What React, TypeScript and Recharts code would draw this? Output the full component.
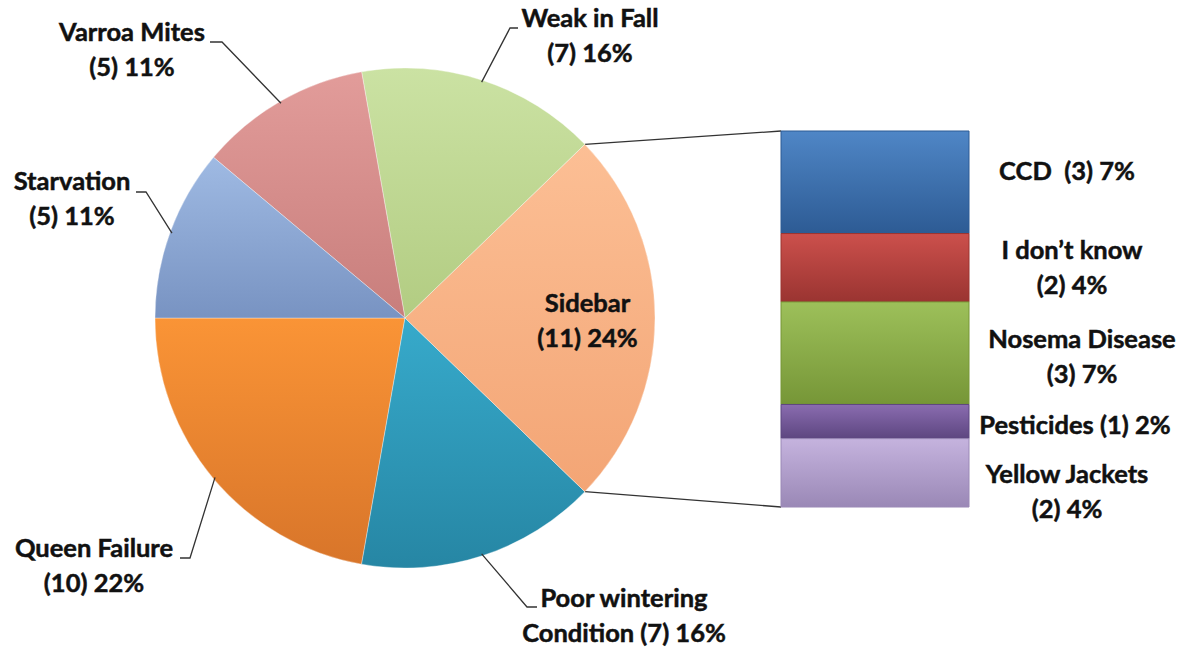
import { PieChart, Pie, Cell, BarChart, Bar, XAxis, YAxis } from 'recharts'

const W = 1180
const H = 647

// main pie, counter-clockwise from 9 o'clock
const causes = ['Queen Failure', 'Poor wintering', 'Sidebar', 'Weak in Fall', 'Varroa Mites', 'Starvation']
const causeCounts = [10, 7, 11, 7, 5, 5]
const causeTop = ['#fa9436', '#37aacb', '#fcbf95', '#cbe2a3', '#e29c9a', '#9fbae3']
const causeBottom = ['#d8752a', '#2686a4', '#f3a575', '#b2cc82', '#c87e7c', '#7893c2']

// breakdown of "Sidebar", top to bottom
const sideCauses = ['CCD ', 'I don\u2019t know', 'Nosema Disease', 'Pesticides', 'Yellow Jackets']
const sideCounts = [3, 2, 3, 1, 2]
const sideTop = ['#4f86c6', '#cc504c', '#9dc05a', '#8a6cb0', '#c5b3de']
const sideBottom = ['#2d5b94', '#9a3431', '#769637', '#5d4680', '#9a88b6']

const total = causeCounts.reduce((a, b) => a + b, 0)
const pct = (v: number) => `${Math.round((v / total) * 100)}%`

// pie geometry
const CX = 405
const CY = 318
const R = 250
const START = 180

// bar geometry
const BAR_L = 781
const BAR_R = 969
const BAR_T = 131
const BAR_B = 507

const FONT = 'Lato, "Open Sans", sans-serif'
const RAD = Math.PI / 180

// outer label layout: text centre x, first baseline, leader elbow, leader end
const pieLabelPos: Record<string, { x: number; y: number; elbow: number[]; end: number[] }> = {
  'Queen Failure': { x: 94, y: 557, elbow: [190, 558], end: [180, 558] },
  'Poor wintering': { x: 624, y: 607, elbow: [527, 607], end: [537, 607] },
  'Weak in Fall': { x: 590, y: 27, elbow: [510, 28], end: [518, 28] },
  'Varroa Mites': { x: 132, y: 41, elbow: [222, 42], end: [210, 42] },
  Starvation: { x: 72, y: 190, elbow: [146, 192], end: [136, 192] },
}

const pieLabelLines = (i: number) => {
  const name = causes[i]
  const v = causeCounts[i]
  if (name === 'Poor wintering') return ['Poor wintering', `Condition (${v}) ${pct(v)}`]
  return [name, `(${v}) ${pct(v)}`]
}

const textStyle = {
  fontFamily: FONT,
  fontWeight: 700,
  fontSize: 25.5,
  fill: '#111',
  stroke: '#111',
  strokeWidth: 0.5,
}

const renderPieLabel = (p: any) => {
  const { cx, cy, midAngle, outerRadius, index } = p
  const name = causes[index]
  const lines = pieLabelLines(index)
  if (name === 'Sidebar') {
    const r = outerRadius * 0.73
    const x = cx + r * Math.cos(-midAngle * RAD)
    const y = cy + r * Math.sin(-midAngle * RAD)
    return (
      <text x={x} y={y - 6} textAnchor="middle" style={textStyle}>
        <tspan x={x} dy={0}>{lines[0]}</tspan>
        <tspan x={x} dy={35}>{lines[1]}</tspan>
      </text>
    )
  }
  const pos = pieLabelPos[name]
  const sx = cx + (outerRadius - 2) * Math.cos(-midAngle * RAD)
  const sy = cy + (outerRadius - 2) * Math.sin(-midAngle * RAD)
  return (
    <g>
      <polyline
        points={`${sx},${sy} ${pos.elbow[0]},${pos.elbow[1]} ${pos.end[0]},${pos.end[1]}`}
        fill="none"
        stroke="#333"
        strokeWidth={1.3}
      />
      <text x={pos.x} y={pos.y} textAnchor="middle" style={textStyle}>
        <tspan x={pos.x} dy={0}>{lines[0]}</tspan>
        <tspan x={pos.x} dy={35}>{lines[1]}</tspan>
      </text>
    </g>
  )
}

// side bar labels: centre offset from bar right edge, vertical nudge
const sideLabelDx = [98, 103, 113, 106, 98]
const sideLabelDy = [-10, 0, 4, 4, 19]

const sideLabelLines = (i: number) => {
  const name = sideCauses[i]
  const v = sideCounts[i]
  const tail = `(${v}) ${pct(v)}`
  if (name === 'CCD ' || name === 'Pesticides') return [`${name} ${tail}`]
  return [name, tail]
}

const renderSideLabel = (p: any, i: number) => {
  const x = Number(p.x) + Number(p.width) + sideLabelDx[i]
  const mid = Number(p.y) + Number(p.height) / 2 + sideLabelDy[i]
  const lines = sideLabelLines(i)
  const first = lines.length === 1 ? mid + 8 : mid - 9
  return (
    <text key={`sl-${i}`} x={x} y={first} textAnchor="middle" style={{ ...textStyle, whiteSpace: 'pre' }}>
      {lines.map((l, k) => (
        <tspan key={k} x={x} dy={k === 0 ? 0 : 35}>
          {l}
        </tspan>
      ))}
    </text>
  )
}

const barRow = [
  Object.fromEntries([['name', 'Sidebar'], ...sideCauses.map((_, i) => [`s${i}`, sideCounts[i]])]),
]
const sideTotal = sideCounts.reduce((a, b) => a + b, 0)

// connector lines from the "Sidebar" slice edges to the bar corners
const sideIdx = causes.indexOf('Sidebar')
const before = causeCounts.slice(0, sideIdx).reduce((a, b) => a + b, 0)
const a0 = (START + (before / total) * 360) * RAD
const a1 = (START + ((before + causeCounts[sideIdx]) / total) * 360) * RAD
const p0 = [CX + R * Math.cos(a0), CY - R * Math.sin(a0)]
const p1 = [CX + R * Math.cos(a1), CY - R * Math.sin(a1)]

export default function App() {
  return (
    <div style={{ position: 'fixed', left: 0, top: 0, width: W, height: H, background: '#fff' }}>
      <svg width={W} height={H} style={{ position: 'absolute', left: 0, top: 0 }}>
        <line x1={p1[0]} y1={p1[1]} x2={BAR_L} y2={BAR_T} stroke="#333" strokeWidth={1.3} />
        <line x1={p0[0]} y1={p0[1]} x2={BAR_L} y2={BAR_B} stroke="#333" strokeWidth={1.3} />
      </svg>
      <div style={{ position: 'absolute', left: 0, top: 0 }}>
        <PieChart width={W} height={H} margin={{ top: 0, right: 0, bottom: 0, left: 0 }}>
          <defs>
            {causes.map((_, i) => (
              <linearGradient key={i} id={`pg${i}`} x1="0" y1="0" x2="0" y2="1">
                <stop offset="0%" stopColor={causeTop[i]} />
                <stop offset="100%" stopColor={causeBottom[i]} />
              </linearGradient>
            ))}
          </defs>
          <Pie
            data={causes.map((name, i) => ({ name, value: causeCounts[i] }))}
            dataKey="value"
            nameKey="name"
            cx={CX}
            cy={CY}
            outerRadius={R}
            startAngle={START}
            endAngle={START + 360}
            label={renderPieLabel}
            labelLine={false}
            isAnimationActive={false}
          >
            {causes.map((_, i) => (
              <Cell key={i} fill={`url(#pg${i})`} stroke="rgba(255,255,255,0.35)" strokeWidth={1} />
            ))}
          </Pie>
        </PieChart>
      </div>
      <div style={{ position: 'absolute', left: 0, top: 0 }}>
        <BarChart
          width={W}
          height={H}
          data={barRow}
          margin={{ top: BAR_T, bottom: H - BAR_B, left: BAR_L, right: W - BAR_R }}
          barCategoryGap={0}
        >
          <defs>
            {sideCauses.map((_, i) => (
              <linearGradient key={i} id={`bg${i}`} x1="0" y1="0" x2="0" y2="1">
                <stop offset="0%" stopColor={sideTop[i]} />
                <stop offset="100%" stopColor={sideBottom[i]} />
              </linearGradient>
            ))}
          </defs>
          <XAxis dataKey="name" hide />
          <YAxis type="number" domain={[0, sideTotal]} reversed hide />
          {sideCauses.map((_, i) => (
            <Bar
              key={i}
              dataKey={`s${i}`}
              stackId="side"
              fill={`url(#bg${i})`}
              stroke={sideBottom[i]}
              strokeWidth={1}
              label={(p: any) => renderSideLabel(p, i)}
              isAnimationActive={false}
            />
          ))}
        </BarChart>
      </div>
    </div>
  )
}
